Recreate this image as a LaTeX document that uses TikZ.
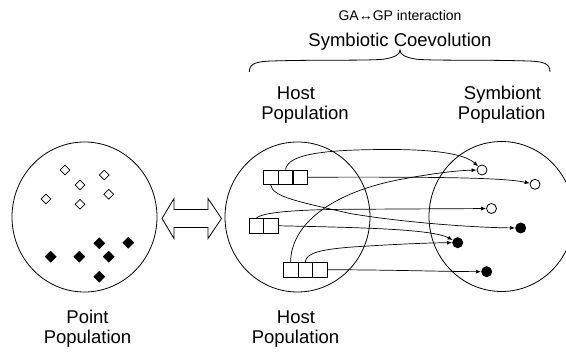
\documentclass[tikz,border=0pt]{standalone}
\usepackage{fontspec}
\setmainfont{Liberation Sans}
\usetikzlibrary{shapes.geometric,arrows.meta}
\begin{document}
\begin{tikzpicture}[x=1pt,y=-1pt,
  cell/.style={draw,minimum width=14.7pt,minimum height=14.5pt,inner sep=0,line width=0.8pt},
  opendot/.style={draw,circle,minimum size=10pt,inner sep=0,line width=0.8pt},
  fulldot/.style={fill,circle,minimum size=11pt,inner sep=0},
  odia/.style={draw,diamond,minimum width=10pt,minimum height=10pt,inner sep=0,line width=0.7pt},
  fdia/.style={fill,diamond,minimum width=12pt,minimum height=12pt,inner sep=0},
  conn/.style={line width=0.7pt,-{Latex[length=5pt,width=4pt]}},
  lbl/.style={font=\fontsize{18.5}{20}\selectfont,anchor=base,inner sep=0},
  small/.style={font=\fontsize{14}{16}\selectfont,anchor=base,inner sep=0},
  pop/.style={draw,ellipse,minimum width=145pt,minimum height=150pt,inner sep=0,line width=0.8pt},
  outline/.style={line width=0.8pt}]
\clip (0,0) rectangle (566,352);

% populations
\node[pop] (point) at (84.5,217) {};
\node[pop] (host) at (297.5,217) {};
\node[pop] (symb) at (501.5,216.5) {};

% point population diamonds
\node[odia] (p1) at (65,170) {};
\node[odia] (p2) at (104.3,175) {};
\node[odia] (p3) at (80,185) {};
\node[odia] (p4) at (46,199) {};
\node[odia] (p5) at (108.7,194.3) {};
\node[odia] (p6) at (80,204.3) {};
\node[fdia] (p7) at (99.3,243.3) {};
\node[fdia] (p8) at (128.3,242.7) {};
\node[fdia] (p9) at (50.7,256.7) {};
\node[fdia] (p10) at (79.3,256.7) {};
\node[fdia] (p11) at (108.7,256.7) {};
\node[fdia] (p12) at (99.3,276.7) {};

% double arrow
\draw[outline] (162,218.5) -- (174,198.5) -- (174,209.5) -- (208,209.5) -- (208,198.5)
  -- (221.5,218.5) -- (208,238.5) -- (208,227.5) -- (174,227.5) -- (174,238.5) -- cycle;

% host individuals
\node[cell] (t1) at (270.7,177.2) {};
\node[cell] (t2) at (285.5,177.2) {};
\node[cell] (t3) at (300.3,177.2) {};
\node[cell] (m1) at (256.4,225.8) {};
\node[cell] (m2) at (271.2,225.8) {};
\node[cell] (b1) at (290.6,269.7) {};
\node[cell] (b2) at (305.3,269.7) {};
\node[cell] (b3) at (320,269.7) {};

% symbionts
\node[opendot] (A) at (482,170) {};
\node[opendot] (B) at (535,184.3) {};
\node[opendot] (C) at (491.5,208.5) {};
\node[fulldot] (D) at (520.7,228) {};
\node[fulldot] (E) at (457.7,242.7) {};
\node[fulldot] (F) at (486.7,271.7) {};

% links
\draw[conn] (t2.north) .. controls (288,153) and (330,149.5) .. (390,149.5)
  .. controls (440,149.5) and (466,155) .. (A);
\draw[conn] (t3.east) .. controls (420,177) and (500,177) .. (B);
\draw[conn] (t1.south) .. controls (272,197) and (300,202) .. (350,213.5)
  .. controls (400,222) and (470,227.5) .. (D);
\draw[conn] (m1.north) .. controls (262,212) and (300,209.5) .. (350,209.3) -- (C);
\draw[conn] (m2.east) .. controls (360,227.5) and (432,229) .. (E);
\draw[conn] (b1.north) .. controls (291,225) and (330,193) .. (400,179.5)
  .. controls (430,174) and (455,170.5) .. (A);
\draw[conn] (b2.north) .. controls (306,253) and (320,249) .. (360,246.5)
  .. controls (400,244) and (430,242.8) .. (E);
\draw[conn] (b3.east) .. controls (400,270) and (440,271.5) .. (F);

% brace
\draw[outline] (249.3,72) .. controls (249.3,63.5) and (256,61.5) .. (272,61)
  .. controls (320,59.5) and (370,61) .. (385,59)
  .. controls (396,57) and (400,54) .. (400,50)
  .. controls (400,54) and (404,57) .. (415,59)
  .. controls (430,61) and (480,59.5) .. (528,61)
  .. controls (544,61.5) and (550,63.5) .. (550,72);

% texts
\node[small] (ga) at (400,20.7) {GA↔GP interaction};
\node[lbl] (sc) at (400,47) {Symbiotic Coevolution};
\node[lbl] (h1) at (296,99.3) {Host};
\node[lbl] (h2) at (305,119.3) {Population};
\node[lbl] (s1) at (502.5,99.3) {Symbiont};
\node[lbl] (s2) at (501.7,119.3) {Population};
\node[lbl] (pt1) at (87.5,323.3) {Point};
\node[lbl] (pt2) at (87.5,343.3) {Population};
\node[lbl] (hb1) at (296,323.3) {Host};
\node[lbl] (hb2) at (295.5,343.3) {Population};
\end{tikzpicture}
\end{document}
